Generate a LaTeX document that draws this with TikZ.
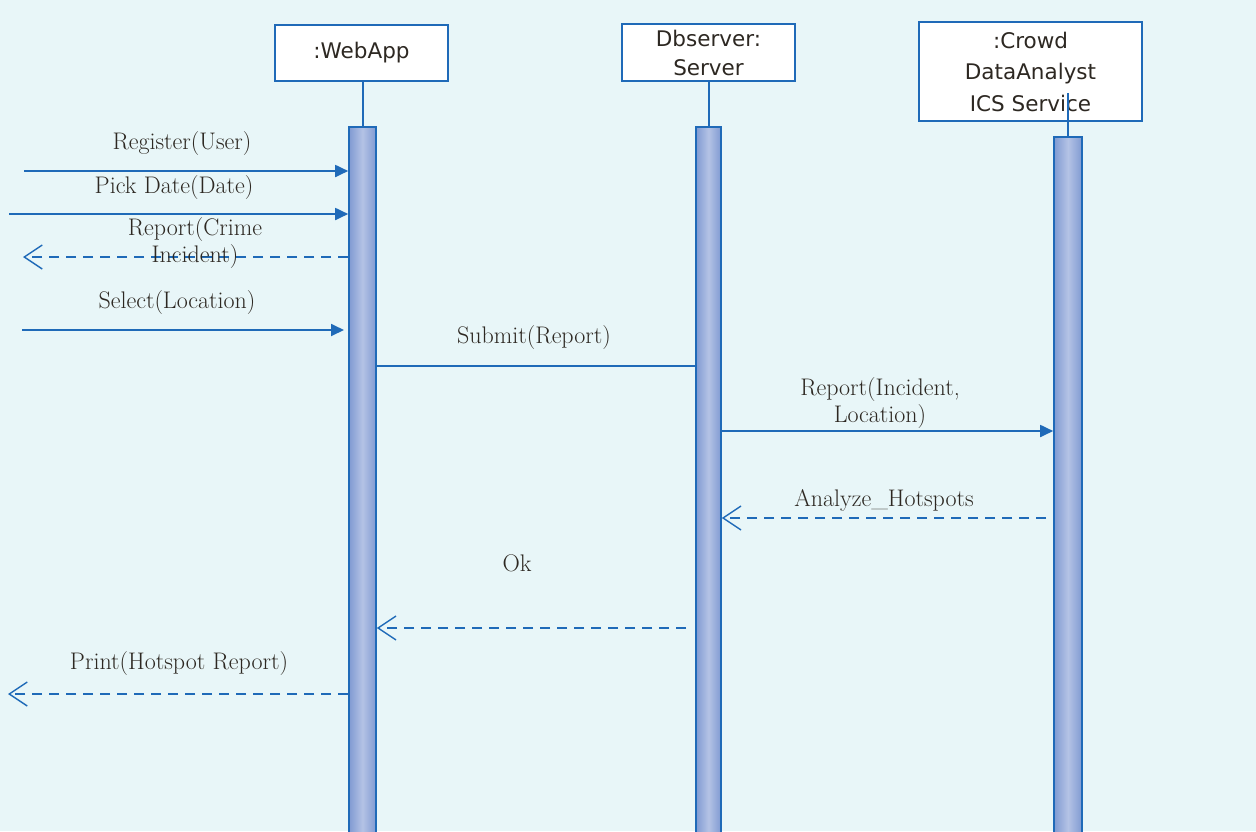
\documentclass[tikz,border=0pt]{standalone}
\usepackage{fontspec}
\newfontfamily\boxfont{DejaVu Sans}
\usetikzlibrary{arrows.meta}
\definecolor{bg}{RGB}{232,246,248}
\definecolor{ln}{RGB}{31,106,184}
\definecolor{actD}{RGB}{128,154,210}
\definecolor{actL}{RGB}{180,195,229}
\definecolor{txt}{RGB}{45,40,34}
\begin{document}
\begin{tikzpicture}[x=1pt,y=-1pt,
  obj/.style={draw=ln, line width=1.6pt, fill=white, inner sep=0pt, font=\boxfont\fontsize{21.5}{29}\selectfont, text=txt, align=center},
  act/.style={draw=ln, line width=1.6pt, left color=actD, right color=actD, middle color=actL, inner sep=0pt},
  lifeline/.style={draw=ln, line width=2pt},
  msg/.style={draw=ln, line width=1.8pt, -{Triangle[length=13pt,width=12pt]}},
  ret/.style={draw=ln, line width=1.8pt, dash pattern=on 10pt off 7pt, -{Straight Barb[length=18pt,width=24pt,line width=1.4pt]}},
  plain/.style={draw=ln, line width=1.8pt},
  lbl/.style={font=\fontsize{24}{27}\selectfont, text=txt, align=center, inner sep=0pt}]
\useasboundingbox (0,0) rectangle (1256,831);
\fill[bg] (0,0) rectangle (1256,831);
% objects
\node[obj, minimum width=173pt, minimum height=56pt] (webapp) at (361.5,53) {:WebApp};
\node[obj, minimum width=173pt, minimum height=57pt] (dbs) at (708.5,52.5) {Dbserver:\\Server};
\node[obj, minimum width=223pt, minimum height=99pt, font=\boxfont\fontsize{21.5}{31.5}\selectfont] (crowd) at (1030.5,71.5) {:Crowd\\DataAnalyst\\ICS Service};
% activation bars
\node[act, minimum width=27pt, minimum height=718pt] (wa) at (362.5,486) {};
\node[act, minimum width=25pt, minimum height=718pt] (db) at (708.5,486) {};
\node[act, minimum width=28pt, minimum height=708pt] (cr) at (1068,491) {};
% lifelines
\draw[lifeline] (webapp.south -| wa.north) -- (wa.north);
\draw[lifeline] (dbs.south -| db.north) -- (db.north);
\coordinate (crtop) at (1068,93);
\draw[lifeline] (crtop) -- (cr.north);
% messages
\coordinate (m1) at (24,171);
\draw[msg] (m1) -- (wa.west |- m1);
\node[lbl] (l1) at (182,144) {Register(User)};
\coordinate (m2) at (9,214);
\draw[msg] (m2) -- (wa.west |- m2);
\node[lbl] (l2) at (174,188) {Pick Date(Date)};
\coordinate (m3) at (23,257);
\draw[ret] (wa.west |- m3) -- (m3);
\node[lbl] (l3) at (195,243) {Report(Crime\\Incident)};
\coordinate (m4) at (22,330);
\coordinate (m4e) at (344,330);
\draw[msg] (m4) -- (m4e);
\node[lbl] (l4) at (177,303) {Select(Location)};
\coordinate (m5) at (0,366);
\draw[plain] (wa.east |- m5) -- (db.west |- m5);
\node[lbl] (l5) at (534,338) {Submit(Report)};
\coordinate (m6) at (0,431);
\draw[msg] (db.east |- m6) -- (cr.west |- m6);
\node[lbl] (l6) at (880,403) {Report(Incident,\\Location)};
\coordinate (m7) at (1046,518);
\draw[ret] (m7) -- (db.east |- m7);
\node[lbl] (l7) at (884,500) {Analyze\_Hotspots};
\coordinate (m8) at (686,628);
\draw[ret] (m8) -- (wa.east |- m8);
\node[lbl] (l8) at (517,563) {Ok};
\coordinate (m9) at (8,694);
\draw[ret] (wa.west |- m9) -- (m9);
\node[lbl] (l9) at (179,663) {Print(Hotspot Report)};
\end{tikzpicture}
\end{document}
